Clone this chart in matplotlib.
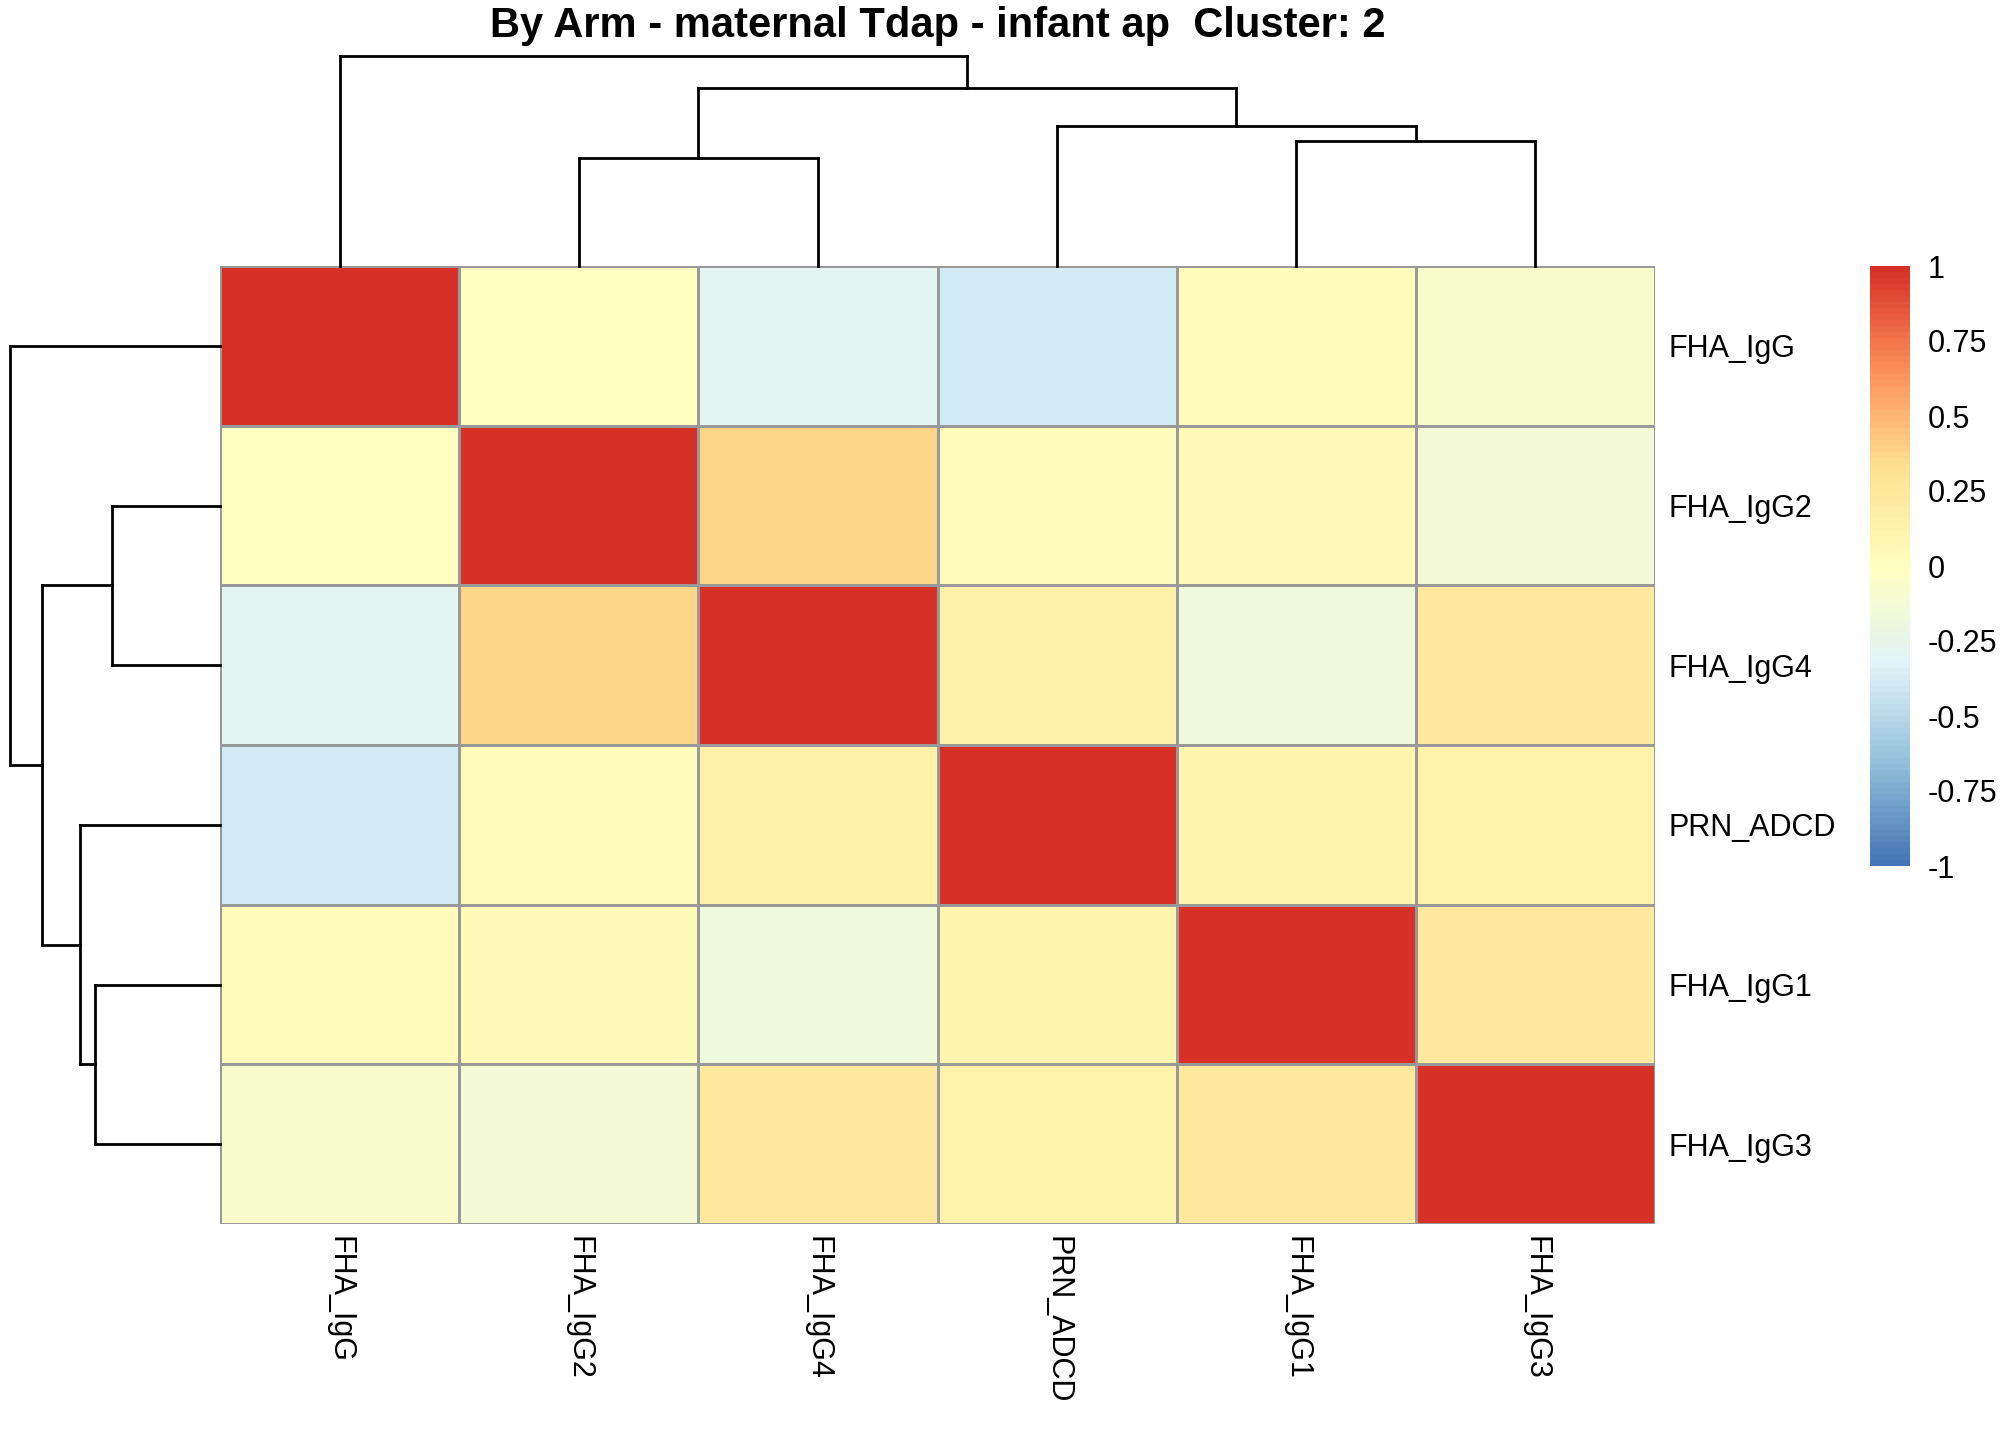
import numpy as np
import matplotlib
matplotlib.use("Agg")
import matplotlib.pyplot as plt
from matplotlib.colors import LinearSegmentedColormap, Normalize
from matplotlib.cm import ScalarMappable

plt.rcParams['font.family'] = ['Liberation Sans', 'DejaVu Sans']

# ---- data ----
title = "By Arm - maternal Tdap - infant ap  Cluster: 2"
labels = ["FHA_IgG", "FHA_IgG2", "FHA_IgG4", "PRN_ADCD", "FHA_IgG1", "FHA_IgG3"]
row_FHA_IgG  = [1.00, -0.01, -0.30, -0.40, 0.02, -0.07]
row_FHA_IgG2 = [-0.01, 1.00, 0.36, 0.03, 0.04, -0.14]
row_FHA_IgG4 = [-0.30, 0.36, 1.00, 0.16, -0.18, 0.23]
row_PRN_ADCD = [-0.40, 0.03, 0.16, 1.00, 0.10, 0.12]
row_FHA_IgG1 = [0.02, 0.04, -0.18, 0.10, 1.00, 0.22]
row_FHA_IgG3 = [-0.07, -0.14, 0.23, 0.12, 0.22, 1.00]
# dendrogram merges (leaf indices 0..5 in displayed order, new nodes 6..)
merge_a = [1, 4, 3, 6, 0]
merge_b = [2, 5, 7, 8, 9]
merge_h = [1.08, 1.255, 1.405, 1.78, 2.10]
cbar_ticks = [1, 0.75, 0.5, 0.25, 0, -0.25, -0.5, -0.75, -1]
cbar_labels = ["1", "0.75", "0.5", "0.25", "0", "-0.25", "-0.5", "-0.75", "-1"]

M = np.array([row_FHA_IgG, row_FHA_IgG2, row_FHA_IgG4, row_PRN_ADCD, row_FHA_IgG1, row_FHA_IgG3])
n = len(labels)

W, H = 2016, 1440
fig = plt.figure(figsize=(W / 100, H / 100), dpi=100)

def rect(x0, y0, x1, y1):
    return [x0 / W, 1 - y1 / H, (x1 - x0) / W, (y1 - y0) / H]

pal = ["#4575B4", "#91BFDB", "#E0F3F8", "#FFFFBF", "#FEE090", "#FC8D59", "#D73027"]
cmap = LinearSegmentedColormap.from_list("rdylbu_r", pal, N=100)
norm = Normalize(-1, 1)

# heatmap
hx0, hy0, hx1, hy1 = 220, 266, 1655, 1224
ax = fig.add_axes(rect(hx0, hy0, hx1, hy1))
ax.pcolormesh(np.arange(n + 1), np.arange(n + 1), M, cmap=cmap, norm=norm,
              edgecolors="#999999", linewidth=2.0)
ax.set_xlim(0, n)
ax.set_ylim(n, 0)
for s in ax.spines.values():
    s.set_visible(False)
ax.set_xticks(np.arange(n) + 0.5)
ax.set_xticklabels(labels, rotation=-90, ha="center", va="top", fontsize=22)
ax.set_yticks(np.arange(n) + 0.5)
ax.set_yticklabels(labels, fontsize=22, va="center_baseline")
ax.yaxis.tick_right()
ax.tick_params(axis="x", length=0, pad=9)
ax.tick_params(axis="y", length=0, pad=9.5)

# dendrogram segments
def dendro_segments():
    xs = {i: i + 0.5 for i in range(n)}
    hs = {i: 0.0 for i in range(n)}
    segs = []
    for k, (a, b, h) in enumerate(zip(merge_a, merge_b, merge_h)):
        node = n + k
        segs.append(((xs[a], hs[a]), (xs[a], h)))
        segs.append(((xs[b], hs[b]), (xs[b], h)))
        segs.append(((xs[a], h), (xs[b], h)))
        xs[node] = (xs[a] + xs[b]) / 2
        hs[node] = h
    return segs

segs = dendro_segments()
top_h = max(merge_h)

# column dendrogram
axc = fig.add_axes(rect(hx0, hy0 - 210, hx1, hy0))
for (x0, y0), (x1, y1) in segs:
    axc.plot([x0, x1], [y0, y1], color="black", lw=2.0, solid_capstyle="projecting", clip_on=False)
axc.set_xlim(0, n)
axc.set_ylim(0, top_h)
axc.axis("off")

# row dendrogram
axr = fig.add_axes(rect(hx0 - 210, hy0, hx0, hy1))
for (x0, y0), (x1, y1) in segs:
    axr.plot([y0, y1], [x0, x1], color="black", lw=2.0, solid_capstyle="projecting", clip_on=False)
axr.set_ylim(n, 0)
axr.set_xlim(top_h, 0)
axr.axis("off")

# colorbar
axb = fig.add_axes(rect(1870, 266, 1910, 866))
cb = fig.colorbar(ScalarMappable(norm=norm, cmap=cmap), cax=axb, ticks=cbar_ticks)
cb.outline.set_visible(False)
cb.ax.set_yticklabels(cbar_labels)
cb.ax.tick_params(length=0, pad=12.5, labelsize=22)

fig.text(0.5 * (hx0 + hx1) / W, 1 - 26 / H, title, ha="center", va="center",
         fontsize=30, fontweight="bold")

fig.savefig("out.png", dpi=100, facecolor="white")
